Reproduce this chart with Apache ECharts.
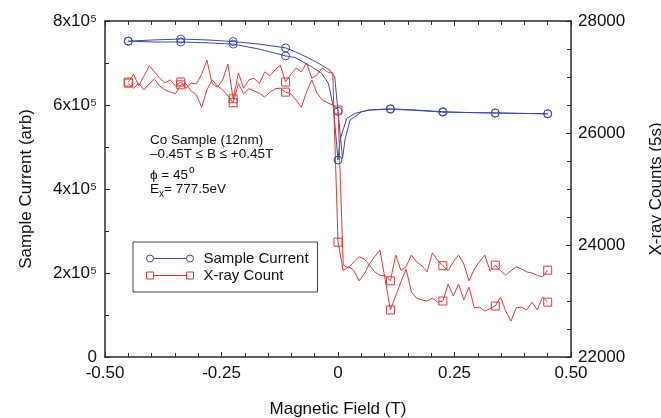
<!DOCTYPE html>
<html><head><meta charset="utf-8">
<script src="https://cdn.jsdelivr.net/npm/echarts@6/dist/echarts.min.js"></script>
<style>html,body{margin:0;padding:0;background:#fff}#c{width:661px;height:418px}</style>
</head><body><div id="c"></div>
<script>
// ---- data ----
const markerFields = [-0.45, -0.3375, -0.225, -0.1125, 0, 0.1125, 0.225, 0.3375, 0.45];

// X-ray count: both sweep branches on the same field grid (T)
const xrayField = [-0.45, -0.43875, -0.4275, -0.41625, -0.405, -0.39375, -0.3825, -0.37125, -0.36, -0.34875,
  -0.3375, -0.32625, -0.315, -0.30375, -0.2925, -0.28125, -0.27, -0.25875, -0.2475, -0.23625,
  -0.225, -0.21375, -0.2025, -0.19125, -0.18, -0.16875, -0.1575, -0.14625, -0.135, -0.12375,
  -0.1125, -0.10125, -0.09, -0.07875, -0.0675, -0.05625, -0.045, -0.03375, -0.0225, -0.01125,
  0, 0.01125, 0.0225, 0.03375, 0.045, 0.05625, 0.0675, 0.07875, 0.09, 0.10125,
  0.1125, 0.12375, 0.135, 0.14625, 0.1575, 0.16875, 0.18, 0.19125, 0.2025, 0.21375,
  0.225, 0.23625, 0.2475, 0.25875, 0.27, 0.28125, 0.2925, 0.30375, 0.315, 0.32625,
  0.3375, 0.34875, 0.36, 0.37125, 0.3825, 0.39375, 0.405, 0.41625, 0.4275, 0.43875, 0.45];
const xrayBranchA = [26890, 26800, 26890, 26770, 26880, 26960, 26840, 26770, 26730, 26700,
  26860, 26880, 26750, 26680, 26460, 26770, 26950, 26840, 26770, 26660,
  26540, 26880, 26700, 26790, 26750, 26710, 26640, 26730, 26790, 26800,
  26730, 26700, 26590, 26460, 26730, 26950, 26710, 26590, 26540, 26500,
  26410, 23640, 23590, 23700, 23790, 23750, 23640, 23520, 23460, 23450,
  23360, 23820, 23550, 23610, 23820, 23700, 23630, 23520, 23860, 23730,
  23630, 23540, 23700, 23820, 23660, 23360, 23570, 23700, 23820, 23540,
  23640, 23540, 23460, 23540, 23610, 23570, 23520, 23500, 23460, 23430, 23550];
const xrayBranchB = [26910, 27050, 26840, 27020, 27200, 27090, 26980, 26890, 26950, 26840,
  26910, 26800, 26890, 26880, 27050, 27300, 26880, 26820, 26950, 27230,
  26610, 27070, 26800, 26950, 26980, 26880, 27090, 27020, 27130, 27210,
  26910, 27050, 27160, 27090, 27250, 26980, 27040, 27160, 27090, 27070,
  24050, 23540, 23610, 23550, 23360, 23480, 23660, 23790, 23910, 23380,
  22840, 23090, 23340, 23570, 23160, 23050, 23020, 23000, 23050, 22980,
  23000, 23300, 23090, 23300, 23020, 23250, 22880, 22890, 22820, 22860,
  22910, 23070, 22820, 22640, 22880, 22890, 22840, 22980, 22840, 23070, 22980];

// Sample current: two sweep branches
const currentFieldA = [-0.45, -0.39375, -0.3375, -0.28125, -0.225, -0.16875, -0.1125, -0.092, -0.0633, -0.0429,
  -0.0178, -0.0071, 0, 0.0097, 0.015, 0.0258, 0.0509, 0.0687, 0.1125, 0.16875, 0.225, 0.28125, 0.3375, 0.39375, 0.45];
const currentBranchA = [752000, 755000, 757000, 755000, 751000, 745000, 736000, 727000, 712000, 700000,
  683000, 667000, 585000, 473000, 517000, 564000, 584000, 588000, 590000, 587000, 583000, 582000, 581000, 580000, 579000];
const currentFieldB = [-0.45, -0.39375, -0.3375, -0.28125, -0.225, -0.16875, -0.1125, -0.092, -0.0564, -0.035,
  -0.0208, -0.0101, 0, 0.0043, 0.0187, 0.0365, 0.065, 0.1125, 0.16875, 0.225, 0.28125, 0.3375, 0.39375, 0.45];
const currentBranchB = [752000, 750000, 750000, 748000, 745000, 733000, 717000, 713000, 691000, 675000,
  652000, 596000, 469000, 517000, 568000, 580000, 588000, 591000, 588000, 584000, 582000, 581000, 580000, 579000];

// ---- chart ----
const FONT = "'Liberation Sans', Arial, Helvetica, sans-serif";
const BLUE = '#3c4aa6';
const RED = '#dc3a3a';
const AX = '#2a2a2a';

function build(xs, ys, sym) {
  return xs.map((x, i) => ({
    value: [x, ys[i]],
    symbol: markerFields.some(m => Math.abs(m - x) < 1e-6) ? sym : 'none'
  }));
}

function lineSeries(name, data, color, yIdx) {
  return {
    name, type: 'line', xAxisIndex: 0, yAxisIndex: yIdx,
    data, symbolSize: 8, showAllSymbol: true, color,
    lineStyle: { color, width: 1 },
    itemStyle: { color: 'rgba(0,0,0,0)', borderColor: color, borderWidth: 1 },
    emphasis: { disabled: true }, animation: false
  };
}

const chart = echarts.init(document.getElementById('c'), null, { renderer: 'canvas' });
const tickStyle = { show: true, inside: true, length: 5, lineStyle: { color: AX, width: 1 } };
const minorStyle = (n) => ({ show: true, splitNumber: n, length: 4, lineStyle: { color: AX, width: 1 } });

chart.setOption({
  animation: false,
  textStyle: { fontFamily: FONT },
  grid: { left: 105, right: 90, top: 21, bottom: 61, containLabel: false, outerBoundsMode: 'none' },
  xAxis: [{
    type: 'value', min: -0.5, max: 0.5, interval: 0.25, position: 'bottom',
    axisLine: { show: true, onZero: false, lineStyle: { color: AX, width: 1.5 } },
    axisTick: tickStyle, minorTick: minorStyle(5), splitLine: { show: false },
    axisLabel: { margin: 8, fontSize: 17, color: '#111', fontFamily: FONT,
      formatter: v => (v === 0 ? '0' : v.toFixed(2)) },
    name: 'Magnetic Field (T)', nameLocation: 'middle', nameGap: 44,
    nameTextStyle: { fontSize: 17, color: '#111', fontFamily: FONT }
  }, {
    type: 'value', min: -0.5, max: 0.5, interval: 0.25, position: 'top',
    axisLine: { show: true, onZero: false, lineStyle: { color: AX, width: 1.5 } },
    axisTick: tickStyle, minorTick: minorStyle(5), splitLine: { show: false },
    axisLabel: { show: false }
  }],
  yAxis: [{
    type: 'value', min: 0, max: 800000, interval: 200000, position: 'left',
    axisLine: { show: true, onZero: false, lineStyle: { color: AX, width: 1.5 } },
    axisTick: tickStyle, minorTick: minorStyle(2), splitLine: { show: false },
    axisLabel: {
      margin: 8, fontSize: 17, color: '#111', fontFamily: FONT,
      formatter: v => (v === 0 ? '0' : (v / 100000) + 'x10\u2075')
    },
    name: 'Sample Current (arb)', nameLocation: 'middle', nameGap: 70, nameRotate: 90,
    nameTextStyle: { fontSize: 17, color: '#111', fontFamily: FONT }
  }, {
    type: 'value', min: 22000, max: 28000, interval: 2000, position: 'right',
    axisLine: { show: true, onZero: false, lineStyle: { color: AX, width: 1.5 } },
    axisTick: tickStyle, minorTick: minorStyle(4), splitLine: { show: false },
    axisLabel: { margin: 7, fontSize: 17, color: '#111', fontFamily: FONT, formatter: v => String(v) },
    name: 'X-ray Counts (5s)', nameLocation: 'middle', nameGap: 77, nameRotate: 90,
    nameTextStyle: { fontSize: 17, color: '#111', fontFamily: FONT }
  }],
  legend: {
    orient: 'vertical', left: 133, top: 242,
    padding: [8, 9, 8, 13], itemWidth: 47, itemHeight: 7, itemGap: 0,
    borderColor: '#444', borderWidth: 1, backgroundColor: '#fff',
    selectedMode: false,
    textStyle: { fontSize: 15, lineHeight: 17, color: '#111', fontFamily: FONT, padding: [0, 0, 0, 5] },
    data: [{
      name: 'Sample Current',
      icon: 'path://M0,3.5 A3.5,3.5 0 1 1 7,3.5 A3.5,3.5 0 1 1 0,3.5 Z M7,3.5 L40,3.5 M40,3.5 A3.5,3.5 0 1 1 47,3.5 A3.5,3.5 0 1 1 40,3.5 Z',
      itemStyle: { color: 'rgba(0,0,0,0)', borderColor: BLUE, borderWidth: 1 }
    }, {
      name: 'X-ray Count',
      icon: 'path://M0,0 L7,0 L7,7 L0,7 Z M7,3.5 L40,3.5 M40,0 L47,0 L47,7 L40,7 Z',
      itemStyle: { color: 'rgba(0,0,0,0)', borderColor: RED, borderWidth: 1 }
    }]
  },
  graphic: [
    { type: 'text', left: 150, top: 133, style: { text: 'Co Sample (12nm)', font: '13.5px ' + FONT, fill: '#111' } },
    { type: 'text', left: 150, top: 147, style: { text: '\u20130.45T \u2264 B \u2264 +0.45T', font: '13.5px ' + FONT, fill: '#111' } },
    { type: 'text', left: 150, top: 165, style: {
        text: '{a|\u03d5 = 45}{sup|o}', fill: '#111',
        rich: { a: { fontSize: 13.5, lineHeight: 20, fontFamily: FONT, fill: '#111' },
                sup: { fontSize: 10, lineHeight: 6, verticalAlign: 'top', fontFamily: FONT, fill: '#111', padding: [0, 0, 0, 1] } } } },
    { type: 'text', left: 150, top: 182, style: {
        text: '{a|E}{sub|x}{a|= 777.5eV}', fill: '#111',
        rich: { a: { fontSize: 13.5, lineHeight: 20, fontFamily: FONT, fill: '#111' },
                sub: { fontSize: 10, lineHeight: 6, verticalAlign: 'bottom', fontFamily: FONT, fill: '#111' } } } }
  ],
  series: [
    lineSeries('Sample Current', build(currentFieldA, currentBranchA, 'circle'), BLUE, 0),
    lineSeries('Sample Current', build(currentFieldB, currentBranchB, 'circle'), BLUE, 0),
    lineSeries('X-ray Count', build(xrayField, xrayBranchA, 'rect'), RED, 1),
    lineSeries('X-ray Count', build(xrayField, xrayBranchB, 'rect'), RED, 1)
  ]
});
</script></body></html>
